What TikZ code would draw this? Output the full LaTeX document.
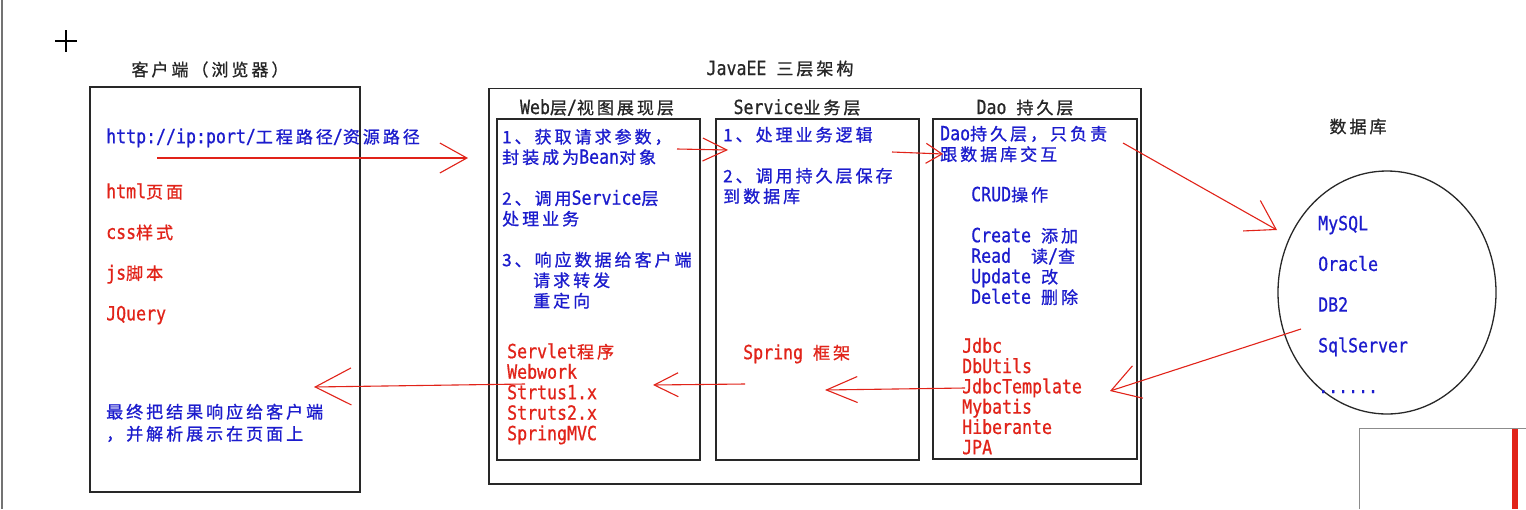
\documentclass[tikz,border=0pt]{standalone}
\usepackage{fontspec}
\setmainfont{DejaVu Sans Mono}[FakeStretch=0.85,FakeBold=0.7]
\newfontfamily\zhf{Noto Sans CJK SC}[Scale=0.872,LetterSpace=17.6,FakeBold=0.9]
\newcommand\zhs[1]{{\zhf #1}}
\newcommand\fs{\rule{0pt}{16pt}}
\usetikzlibrary{arrows.meta,shapes.geometric}
\definecolor{tblue}{RGB}{28,28,205}
\definecolor{tred}{RGB}{225,35,25}
\definecolor{frame}{RGB}{40,40,40}
\setlength{\lineskiplimit}{-40pt}
\tikzset{
  box/.style={draw=frame, line width=1.5pt, rectangle, inner sep=0pt, anchor=north west},
  txt/.style={anchor=north west, inner sep=0pt, align=left,
    font=\fontsize{19.5}{20.5}\selectfont},
  wide/.style={font=\fontsize{19.5}{40.7}\selectfont},
  tb/.style={text=tblue},
  tr/.style={text=tred},
  ttl/.style={anchor=base, inner sep=0pt, font=\fontsize{19.5}{20.5}\selectfont, text=black!85},
  arr/.style 2 args={draw=tred, line width=1.1pt, -{Straight Barb[length=#1pt,width=#2pt]}}
}
\begin{document}
\begin{tikzpicture}[x=1pt,y=-1pt]
\useasboundingbox (0,0) rectangle (1526,509);
\fill[white] (0,0) rectangle (1526,509);
% screen artefacts
\draw[line width=2.5pt, black!55] (2,0) -- (2,509);
\draw[line width=1.3pt, black] (55,41) -- (77,41) (66,30) -- (66,52);
\draw[black!45, line width=1.5pt] (1359.5,509) -- (1359.5,428.5) -- (1526,428.5);
\fill[tred] (1512,428.5) rectangle (1518,509);

% boxes
\node[box, minimum width=270pt, minimum height=405pt] (client) at (89,86) {};
\node[box, minimum width=652pt, minimum height=395.5pt] (outer) at (488,87.5) {};
\node[box, minimum width=203pt, minimum height=341pt] (web) at (496,118) {};
\node[box, minimum width=203pt, minimum height=341pt] (svc) at (715,118) {};
\node[box, minimum width=204pt, minimum height=340pt] (dao) at (932,118) {};
\node[draw=frame, line width=1.3pt, ellipse, minimum width=218pt, minimum height=243pt, inner sep=0pt] (db) at (1387,292.5) {};

% titles
\node[ttl] (tclient) at (210,76) {\zhs{客户端（浏览器）}};
\node[ttl] (tjavaee) at (780,75) {JavaEE \zhs{三层架构}};
\node[ttl] (tweb) at (597,114) {Web\zhs{层}/\zhs{视图展现层}};
\node[ttl] (tsvc) at (797,114) {Service\zhs{业务层}};
\node[ttl] (tdao) at (1025,114) {Dao \zhs{持久层}};
\node[ttl] (tdb) at (1358,133) {\zhs{数据库}};

% client texts
\node[txt,tb] (curl) at (106,127) {\fs http://ip:port/\zhs{工程路径}/\zhs{资源路径}};
\node[txt,wide,tr] (cred) at (106,182) {\fs html\zhs{页面}\\css\zhs{样式}\\js\zhs{脚本}\\JQuery};
\node[txt,tb,font=\fontsize{19.5}{22}\selectfont] (cend) at (106,402) {\fs\zhs{最终把结果响应给客户端}\\\zhs{，并解析展示在页面上}};

% web texts
\node[txt,tb] (wblue) at (502,127) {\fs\zhs{1、获取请求参数，}\\\zhs{封装成为}Bean\zhs{对象}\\ \\\zhs{2、调用}Service\zhs{层}\\\zhs{处理业务}\\ \\\zhs{3、响应数据给客户端}\\\hspace{31pt}\zhs{请求转发}\\\hspace{31pt}\zhs{重定向}};
\node[txt,tr] (wred) at (507,342) {\fs Servlet\zhs{程序}\\Webwork\\Strtus1.x\\Struts2.x\\SpringMVC};

% service texts
\node[txt,tb] (sblue) at (723,125) {\fs\zhs{1、处理业务逻辑}\\ \\\zhs{2、调用持久层保存}\\\zhs{到数据库}};
\node[txt,tr] (sred) at (743,343) {\fs Spring \zhs{框架}};

% dao texts
\node[txt,tb] (dblue) at (940,124) {\fs Dao\zhs{持久层，只负责}\\\zhs{跟数据库交互}};
\node[txt,tb] (dcrud) at (971,185) {\fs CRUD\zhs{操作}\\ \\Create \zhs{添加}\\Read\ \ \zhs{读}/\zhs{查}\\Update \zhs{改}\\Delete \zhs{删除}};
\node[txt,tr,font=\fontsize{19.5}{20.3}\selectfont] (dred) at (962,336.5) {\fs Jdbc\\DbUtils\\JdbcTemplate\\Mybatis\\Hiberante\\JPA};

% database texts
\node[txt,wide,tb] (dbitems) at (1318,214) {\fs MySQL\\Oracle\\DB2\\SqlServer\\......};

% connector ends
\coordinate (a1s) at (157,158);  \coordinate (a1e) at (468,158);
\coordinate (a2s) at (677,149);  \coordinate (a2e) at (728,150);
\coordinate (a3s) at (892,152);  \coordinate (a3e) at (943,154);
\coordinate (a4s) at (1123,143); \coordinate (a4e) at (1277,230);
\coordinate (a5s) at (1301,329); \coordinate (a5e) at (1110,391);
\coordinate (a6s) at (965,388);  \coordinate (a6e) at (825,390);
\coordinate (a7s) at (745,384);  \coordinate (a7e) at (653,385);
\coordinate (a8s) at (525,384);  \coordinate (a8e) at (314,387);

\draw[arr={27}{30}] (a1s) -- (a1e);
\draw[arr={24}{23}] (a2s) -- (a2e);
\draw[arr={16}{20}] (a3s) -- (a3e);
\draw[arr={28}{35}] (a4s) -- (a4e);
\draw[arr={28}{34}] (a5s) -- (a5e);
\draw[arr={31}{26}] (a6s) -- (a6e);
\draw[arr={24}{24}] (a7s) -- (a7e);
\draw[arr={36}{37}] (a8s) -- (a8e);
\end{tikzpicture}
\end{document}
